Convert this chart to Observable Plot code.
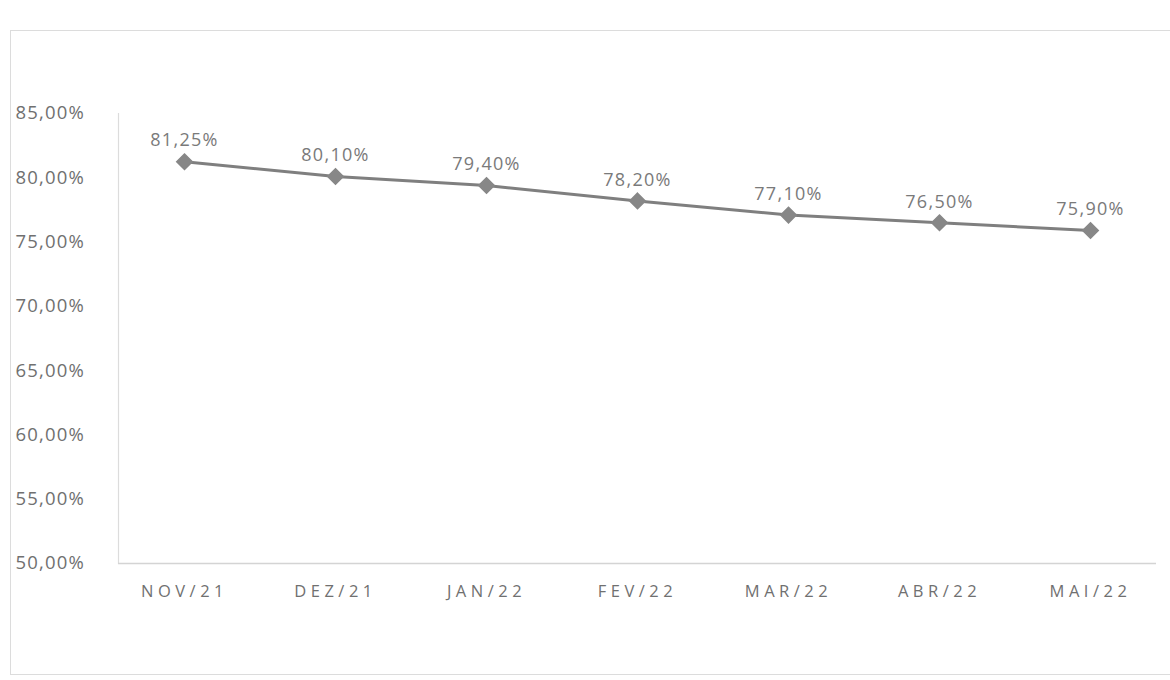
<!DOCTYPE html>
<html>
<head>
<meta charset="utf-8">
<script src="https://cdn.jsdelivr.net/npm/d3@7"></script>
<script src="https://cdn.jsdelivr.net/npm/@observablehq/plot@0.6"></script>
<style>
  html, body { margin: 0; padding: 0; background: #fff; }
  #wrap { position: relative; width: 1170px; height: 680px; overflow: hidden; }
  #frame { position: absolute; left: 10px; top: 30px; width: 1170px; height: 645px; border: 1px solid #dcdcdc; box-sizing: border-box; pointer-events: none; }
  #chart { position: absolute; left: 0; top: 0; }
</style>
</head>
<body>
<div id="wrap">
  <div id="frame"></div>
  <div id="chart"></div>
</div>
<script>
const months = ["NOV/21", "DEZ/21", "JAN/22", "FEV/22", "MAR/22", "ABR/22", "MAI/22"];
const values = [81.25, 80.10, 79.40, 78.20, 77.10, 76.50, 75.90];
const yTicks = [50, 55, 60, 65, 70, 75, 80, 85];

const data = months.map((m, i) => ({month: m, value: values[i]}));
const fmt = d => d.toFixed(2).replace(".", ",") + "%";

const chart = Plot.plot({
  width: 1170,
  height: 680,
  marginTop: 113,
  marginBottom: 117,
  marginLeft: 118,
  marginRight: 14,
  style: {fontFamily: "'Open Sans', Lato, sans-serif", background: "transparent"},
  x: {type: "point", domain: months, padding: 0.43, label: null},
  y: {domain: [50, 85], label: null},
  marks: [
    Plot.frame({anchor: "left", stroke: "#dcdcdc", strokeWidth: 1.2}),
    Plot.ruleY([50], {stroke: "#d4d4d4", strokeWidth: 1.5}),
    Plot.axisY({ticks: yTicks, tickFormat: fmt, tickSize: 0, tickPadding: 103, textAnchor: "start", fill: "#707070", fontSize: 18.5, label: null}),
    Plot.axisX({tickSize: 0, tickPadding: 22, fill: "#707070", fontSize: 16.5, label: null}),
    Plot.line(data, {x: "month", y: "value", stroke: "#7f7f7f", strokeWidth: 3}),
    Plot.dot(data, {x: "month", y: "value", symbol: "diamond2", r: 7, fill: "#878787", stroke: "#878787"}),
    Plot.text(data, {x: "month", y: "value", text: d => fmt(d.value), dy: -21, fill: "#7a7a7a", fontSize: 18, className: "vlabel"})
  ]
});
document.getElementById("chart").appendChild(chart);
// spread text like the reference
chart.querySelectorAll("[aria-label='x-axis tick label'] text").forEach(t => t.setAttribute("letter-spacing", "4.5"));
chart.querySelectorAll("[aria-label='y-axis tick label'] text").forEach(t => t.setAttribute("letter-spacing", "1.2"));
chart.querySelectorAll(".vlabel text").forEach(t => t.setAttribute("letter-spacing", "1.3"));
</script>
</body>
</html>
